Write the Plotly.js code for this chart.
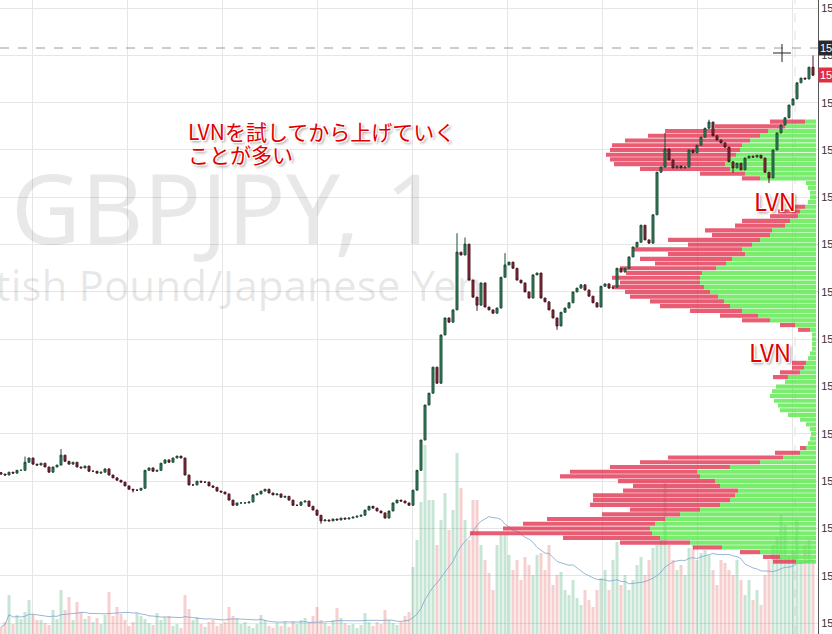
<!DOCTYPE html>
<html><head><meta charset="utf-8">
<script src="https://cdn.plot.ly/plotly-3.0.1.min.js"></script>
<style>html,body{margin:0;padding:0;background:#fff;overflow:hidden}#chart{width:832px;height:634px}</style>
</head><body><div id="chart"></div>
<script>
// ---- price data (1-minute candles, each bar opens at the prior close) ----
const firstOpen = 150.318;
const closes = [
150.315,150.313,150.319,150.317,150.323,150.323,150.340,150.349,150.336,150.334,
150.338,150.330,150.319,150.330,150.334,150.355,150.342,150.336,150.340,150.330,
150.328,150.332,150.321,150.321,150.317,150.319,150.326,150.313,150.307,150.302,
150.298,150.290,150.283,150.281,150.281,150.285,150.323,150.328,150.321,150.323,
150.338,150.345,150.340,150.349,150.353,150.349,150.313,150.292,150.292,150.300,
150.298,150.298,150.290,150.287,150.279,150.277,150.273,150.260,150.249,150.254,
150.254,150.254,150.256,150.271,150.273,150.279,150.283,150.275,150.271,150.273,
150.266,150.268,150.260,150.249,150.249,150.256,150.258,150.247,150.239,150.228,
150.216,150.218,150.216,150.220,150.218,150.222,150.220,150.222,150.224,150.226,
150.228,150.239,150.247,150.243,150.237,150.233,150.222,150.237,150.254,150.260,
150.258,150.254,150.249,150.281,150.323,150.387,150.461,150.486,150.541,150.507,
150.609,150.645,150.636,150.662,150.784,150.778,150.801,150.725,150.689,150.672,
150.719,150.668,150.662,150.655,150.666,150.731,150.757,150.763,150.750,150.725,
150.719,150.700,150.687,150.736,150.740,150.687,150.679,150.662,150.645,150.628,
150.657,150.666,150.677,150.700,150.708,150.715,150.704,150.691,150.677,150.668,
150.712,150.717,150.708,150.710,150.750,150.742,150.750,150.774,150.795,150.805,
150.841,150.810,150.803,150.863,150.953,150.964,151.002,150.979,150.962,150.966,
150.962,150.964,151.000,150.994,151.010,151.027,151.046,151.059,151.030,151.021,
151.015,151.006,150.975,150.962,150.972,150.958,150.983,150.987,150.985,150.989,
150.983,150.953,150.941,151.000,151.036,151.053,151.068,151.095,151.108,151.142,
151.152,151.150,151.175,151.158];
// bars whose wick reaches beyond the body: [bar, price]
const highSpikes = [[6,150.352],[15,150.368],[114,150.824],[116,150.815],[126,150.782],[166,151.036],[177,151.064],[203,151.200]];
const lowSpikes = [[33,150.276],[80,150.210],[119,150.660],[139,150.620],[183,150.952],[192,150.930]];
// ---- tick volume per bar ----
const volumes = [
7,12,39,10,19,15,22,34,20,14, 14,11,9,24,15,44,24,37,14,32,
22,15,18,12,16,10,19,42,18,27, 20,14,8,12,21,18,15,11,9,21,
14,17,18,8,10,6,39,25,14,17, 10,7,12,14,8,10,12,27,18,16,
10,12,8,6,10,19,14,8,6,11, 8,13,7,13,10,14,16,12,18,27,
14,11,8,14,26,16,11,9,10,6, 9,21,12,8,12,10,24,14,11,9,
12,18,22,67,94,132,189,134,134,89, 114,141,104,124,181,146,114,94,134,134,
89,74,61,44,89,99,99,79,64,74, 54,77,69,59,79,81,64,89,49,59,
62,44,39,54,36,29,44,34,27,44, 56,64,44,74,92,49,59,44,54,69,
77,59,74,86,89,94,151,89,74,64, 69,59,86,89,74,81,84,79,64,49,
74,71,64,59,74,54,39,54,34,44, 29,59,74,89,97,119,109,79,84,114,
74,89,94,74];
// ---- visible-range volume profile ----
const profileLevels = [151.06,151.05,151.04,151.03,151.02,151.01,151.00,150.99,150.98,150.97,
150.96,150.95,150.94,150.93,150.92,150.91,150.90,150.89,150.88,150.87,
150.86,150.85,150.84,150.83,150.82,150.81,150.80,150.79,150.78,150.77,
150.76,150.75,150.74,150.73,150.72,150.71,150.70,150.69,150.68,150.67,
150.66,150.65,150.64,150.63,150.62,150.61,150.60,150.59,150.58,150.57,
150.56,150.55,150.54,150.53,150.52,150.51,150.50,150.49,150.48,150.47,
150.46,150.45,150.44,150.43,150.42,150.41,150.40,150.39,150.38,150.37,
150.36,150.35,150.34,150.33,150.32,150.31,150.30,150.29,150.28,150.27,
150.26,150.25,150.24,150.23,150.22,150.21,150.20,150.19,150.18,150.17,
150.16,150.15,150.14,150.13];
const profileUp = [11,31,48,56,66,74,76,80,86,91, 86,71,56,10,8,6,6,8,11,16,
18,26,31,44,46,56,64,74,71,84, 90,100,114,116,116,112,106,98,92,86,
74,58,46,21,6,4,4,4,4,6, 8,10,12,16,28,31,40,44,46,42,
38,36,28,16,10,6,5,6,8,10, 16,33,56,86,119,116,101,96,78,81,
86,96,116,136,151,161,166,164,156,126, 94,56,36,20];
const profileDown = [35,70,103,112,125,130,130,130,120,111, 90,45,18,0,0,0,0,0,15,22,
28,48,50,67,58,92,64,110,77,92, 71,96,76,88,80,92,85,88,74,70,
52,38,28,15,12,0,0,0,0,0, 0,14,12,20,15,0,0,0,0,0,
0,0,0,0,0,0,0,0,0,6, 25,115,120,120,127,140,97,87,115,142,
137,130,70,78,118,132,147,182,97,70, 29,20,17,23];
const crosshairPrice = 151.218;
const symbolTitle = 'GBPJPY, 1';
const symbolName = 'British Pound/Japanese Yen';
const noteLine1 = 'LVNを試してから上げていく';
const noteLine2 = 'ことが多い';
const lvnLabel = 'LVN';

// ---- build ----
const N = closes.length;
const idx = closes.map((_, i) => i);
const opens = closes.map((c, i) => i === 0 ? firstOpen : closes[i - 1]);
const highs = closes.map((c, i) => Math.max(c, opens[i]));
const lows = closes.map((c, i) => Math.min(c, opens[i]));
highSpikes.forEach(([i, v]) => { highs[i] = Math.max(highs[i], v); });
lowSpikes.forEach(([i, v]) => { lows[i] = Math.min(lows[i], v); });
const volColors = closes.map((c, i) => c >= opens[i] ? 'rgba(70,170,115,0.3)' : 'rgba(225,95,95,0.3)');
const maLen = 20;
const volMA = volumes.map((v, i) => {
  const s = volumes.slice(Math.max(0, i - maLen + 1), i + 1);
  return s.reduce((a, b) => a + b, 0) / s.length;
});

const W = 832, H = 634, PW = 818;
const xRange = [-0.25, 204.25];
const pxPerBar = PW / (xRange[1] - xRange[0]);
const edge = (816 / pxPerBar) + xRange[0];
const scale = 1 / pxPerBar;
const px = v => v / PW;
const py = v => 1 - v / H;

const shadow = '-1px -1px 0 #fff, 1px -1px 0 #fff, -1px 1px 0 #fff, 1px 1px 0 #fff, 2px 2px 3px rgba(0,0,0,0.45)';
const noteFont = {family: 'Noto Sans CJK JP, Noto Sans', size: 21, color: '#e00000', shadow: shadow};
const lvnFont = {family: 'Noto Sans CJK JP, Noto Sans', size: 24, color: '#e00000', shadow: shadow};

const traces = [
  {type: 'bar', x: idx, y: volumes, xaxis: 'x', yaxis: 'y', width: 0.75,
   marker: {color: volColors, line: {width: 0}}, hoverinfo: 'skip'},
  {type: 'scatter', mode: 'lines', x: idx, y: volMA, xaxis: 'x', yaxis: 'y',
   line: {color: 'rgba(120,160,200,0.75)', width: 1}, hoverinfo: 'skip'},
  {type: 'bar', orientation: 'h', y: profileLevels, x: profileUp.map(v => -v * scale), base: edge,
   xaxis: 'x', yaxis: 'y2', width: 0.0088,
   marker: {color: 'rgba(85,232,70,0.78)', line: {width: 0}}, hoverinfo: 'skip'},
  {type: 'bar', orientation: 'h', y: profileLevels, x: profileDown.map(v => -v * scale),
   base: profileUp.map(v => edge - v * scale),
   xaxis: 'x', yaxis: 'y2', width: 0.0088,
   marker: {color: 'rgba(226,52,80,0.8)', line: {width: 0}}, hoverinfo: 'skip'},
  {type: 'candlestick', x: idx, open: opens, high: highs, low: lows, close: closes,
   xaxis: 'x', yaxis: 'y2', whiskerwidth: 0,
   increasing: {line: {color: '#1d4a35', width: 1}, fillcolor: '#2f8a5f'},
   decreasing: {line: {color: '#4a1620', width: 1}, fillcolor: '#922b3d'},
   hoverinfo: 'skip'}
];

const layout = {
  width: W, height: H, margin: {l: 0, r: W - PW, t: 0, b: 0, pad: 0},
  paper_bgcolor: '#fff', plot_bgcolor: '#fff', showlegend: false, barmode: 'overlay',
  xaxis: {range: xRange, showgrid: true, gridcolor: '#e6e6e6', gridwidth: 1, tick0: 7.75, dtick: 23.75,
          showticklabels: false, ticks: '', zeroline: false, showline: false,
          rangeslider: {visible: false}, fixedrange: true},
  yaxis: {range: [0, H], visible: false, fixedrange: true},
  yaxis2: {overlaying: 'y', side: 'right', range: [149.977, 151.317], tick0: 150, dtick: 0.1,
           tickformat: '.3f', showgrid: true, gridcolor: '#e6e6e6', gridwidth: 1,
           ticks: '', ticklabelstandoff: 0, showline: true, linecolor: '#555', linewidth: 1,
           zeroline: false, tickfont: {family: 'Liberation Sans, Arial', size: 11, color: '#333'}, fixedrange: true},
  shapes: [
    {type: 'line', xref: 'paper', yref: 'paper', x0: 0, x1: 1, y0: py(48), y1: py(48),
     line: {color: '#9a9a9a', width: 1, dash: 'dash'}},
    {type: 'line', xref: 'paper', yref: 'paper', x0: px(795), x1: px(795), y0: 0, y1: 1,
     line: {color: 'rgba(150,150,150,0.3)', width: 1, dash: 'dash'}, layer: 'below'},
    {type: 'line', xref: 'paper', yref: 'paper', x0: px(773), x1: px(791), y0: py(53), y1: py(53),
     line: {color: '#222', width: 1}},
    {type: 'line', xref: 'paper', yref: 'paper', x0: px(782), x1: px(782), y0: py(44), y1: py(62),
     line: {color: '#222', width: 1}}
  ],
  annotations: [
    {xref: 'paper', yref: 'paper', x: px(225), y: py(206), xanchor: 'center', yanchor: 'middle',
     text: symbolTitle, showarrow: false, font: {family: 'Noto Sans', size: 96, color: 'rgba(0,0,0,0.09)'}},
    {xref: 'paper', yref: 'paper', x: px(212), y: py(284), xanchor: 'center', yanchor: 'middle',
     text: symbolName, showarrow: false, font: {family: 'Noto Sans', size: 42, color: 'rgba(0,0,0,0.09)'}},
    {xref: 'paper', yref: 'paper', x: px(186), y: py(131), xanchor: 'left', yanchor: 'middle',
     text: noteLine1, showarrow: false, font: noteFont},
    {xref: 'paper', yref: 'paper', x: px(186), y: py(154), xanchor: 'left', yanchor: 'middle',
     text: noteLine2, showarrow: false, font: noteFont},
    {xref: 'paper', yref: 'paper', x: px(775), y: py(200), xanchor: 'center', yanchor: 'middle',
     text: lvnLabel, showarrow: false, font: lvnFont},
    {xref: 'paper', yref: 'paper', x: px(770), y: py(351), xanchor: 'center', yanchor: 'middle',
     text: lvnLabel, showarrow: false, font: lvnFont},
    {xref: 'paper', yref: 'paper', x: 1, y: py(48), xanchor: 'left', yanchor: 'middle',
     text: crosshairPrice.toFixed(3), showarrow: false, bgcolor: '#2a2a2a', borderpad: 1,
     font: {family: 'Liberation Sans, Arial', size: 11, color: '#fff'}},
    {xref: 'paper', yref: 'y2', x: 1, y: closes[N - 1], xanchor: 'left', yanchor: 'middle',
     text: closes[N - 1].toFixed(3), showarrow: false, bgcolor: '#e0303f', borderpad: 1,
     font: {family: 'Liberation Sans, Arial', size: 11, color: '#fff'}}
  ]
};

Plotly.newPlot('chart', traces, layout, {staticPlot: true, displayModeBar: false});
</script>
</body></html>
